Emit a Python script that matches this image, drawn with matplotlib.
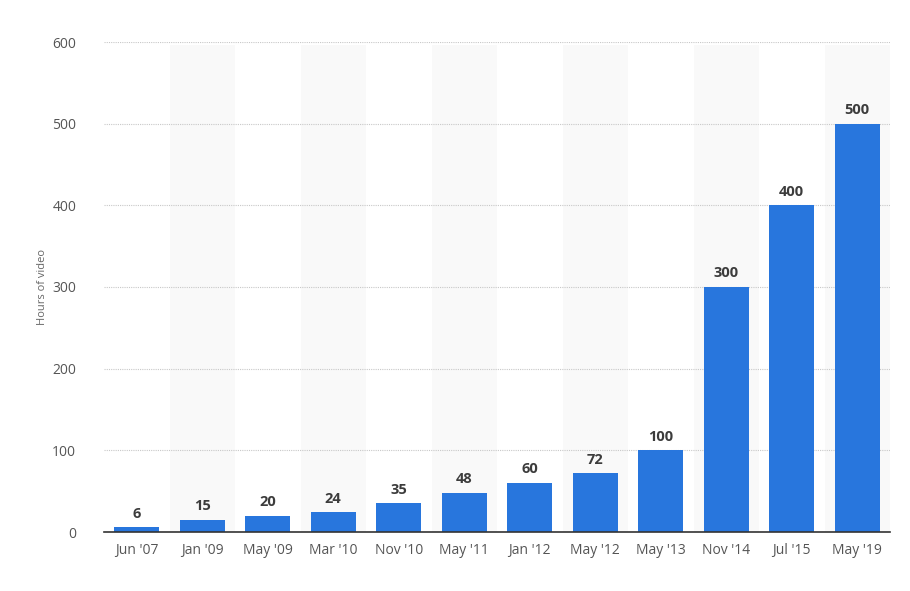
import matplotlib
matplotlib.use("Agg")
import matplotlib.pyplot as plt

categories = ["Jun '07", "Jan '09", "May '09", "Mar '10", "Nov '10", "May '11",
              "Jan '12", "May '12", "May '13", "Nov '14", "Jul '15", "May '19"]
values = [6, 15, 20, 24, 35, 48, 60, 72, 100, 300, 400, 500]
yticks = [0, 100, 200, 300, 400, 500, 600]

plt.rcParams['font.family'] = ['Open Sans', 'DejaVu Sans']

fig = plt.figure(figsize=(9.1, 5.91), dpi=100)
ax = fig.add_axes([104/910, 59/591, 786/910, 490/591])

x = list(range(len(categories)))
for i in x:
    if i % 2 == 1:
        ax.axvspan(i - 0.5, i + 0.5, ymin=0, ymax=0.993, color='#f9f9f9', zorder=0, lw=0)

ax.set_yticks(yticks)
ax.yaxis.grid(True, linestyle=(0, (1, 1)), color='#c8c8c8', linewidth=0.8, zorder=1)
ax.set_axisbelow(True)

bars = ax.bar(x, values, width=0.69, color='#2876dd', zorder=3)
for xi, v in zip(x, values):
    ax.text(xi, v + 8, str(v), ha='center', va='bottom', fontsize=10.5,
            fontweight='bold', color='#3c3c3c', zorder=4)

ax.set_xlim(-0.5, len(categories) - 0.5)
ax.set_ylim(0, 600)
ax.set_xticks(x)
ax.set_xticklabels(categories)
ax.tick_params(axis='x', length=0, pad=8, labelsize=10, labelcolor='#555555')
ax.tick_params(axis='y', length=0, pad=20, labelsize=10, labelcolor='#555555')
for s in ['top', 'right', 'left']:
    ax.spines[s].set_visible(False)
ax.spines['bottom'].set_color('#333333')
ax.spines['bottom'].set_linewidth(1.2)
ax.spines['bottom'].set_zorder(5)

ax.set_ylabel('Hours of video', fontsize=8, color='#666666')
ax.yaxis.set_label_coords(-56/786, 0.5)

fig.savefig('out.png', dpi=100, facecolor='white')
